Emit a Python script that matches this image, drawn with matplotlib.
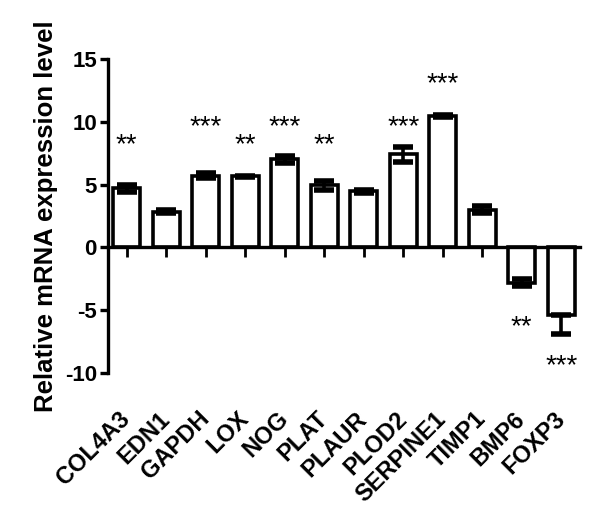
import matplotlib.pyplot as plt
import numpy as np

genes = ['COL4A3', 'EDN1', 'GAPDH', 'LOX', 'NOG', 'PLAT', 'PLAUR', 'PLOD2',
         'SERPINE1', 'TIMP1', 'BMP6', 'FOXP3']
means = [4.7, 2.85, 5.7, 5.65, 7.0, 4.95, 4.45, 7.4, 10.45, 3.0, -2.8, -5.35]
err_low = [0.3, 0.15, 0.2, 0.05, 0.25, 0.35, 0.15, 0.6, 0.1, 0.3, 0.25, 1.55]
err_high = [0.3, 0.15, 0.2, 0.05, 0.25, 0.35, 0.15, 0.6, 0.1, 0.3, 0.25, 0.0]
stars = ['**', '', '***', '**', '***', '**', '', '***', '***', '', '**', '***']
star_y = [8.4, 0, 9.9, 8.4, 9.9, 8.4, 0, 9.9, 13.3, 0, -6.1, -9.2]

plt.rcParams['font.family'] = ['Liberation Sans', 'DejaVu Sans']

fig = plt.figure(figsize=(6, 5.13), dpi=100)
ax = fig.add_axes([0.18, 0.273, 0.787, 0.612])

# axis line at zero (move spine before setting tick labels)
for side in ['top', 'right']:
    ax.spines[side].set_visible(False)
ax.spines['left'].set_linewidth(2.4)
ax.spines['bottom'].set_linewidth(2.4)
ax.spines['bottom'].set_position(('data', 0))

x = np.arange(len(genes))
ax.bar(x, means, width=0.68, color='white', edgecolor='black', linewidth=2.6, zorder=2)
ax.errorbar(x, means, yerr=[err_low, err_high], fmt='none', ecolor='black',
            elinewidth=2.6, capsize=7, capthick=4, zorder=3)

for xi, s, yy in zip(x, stars, star_y):
    if s:
        ax.text(xi, yy - 0.85, s, ha='center', va='baseline', fontsize=20)

ax.set_xlim(-0.47, 11.48)
ax.set_ylim(-10, 15)
ax.set_yticks([-10, -5, 0, 5, 10, 15])
ax.set_yticklabels(['-10', '-5', '0', '5', '10', '15'], fontweight='bold', fontsize=16)
ax.set_xticks(x)
ax.set_xticklabels(genes, rotation=45, ha='right', va='center', rotation_mode='anchor',
                   fontweight='bold', fontsize=17)

ax.tick_params(axis='y', length=6, width=2.4, pad=2)
ax.tick_params(axis='x', length=7, width=2.0, pad=114)

ax.set_ylabel('Relative mRNA expression level', fontsize=18.5, fontweight='bold')
ax.yaxis.set_label_coords(-0.106, 0.498)

plt.savefig('out.png', dpi=100)
